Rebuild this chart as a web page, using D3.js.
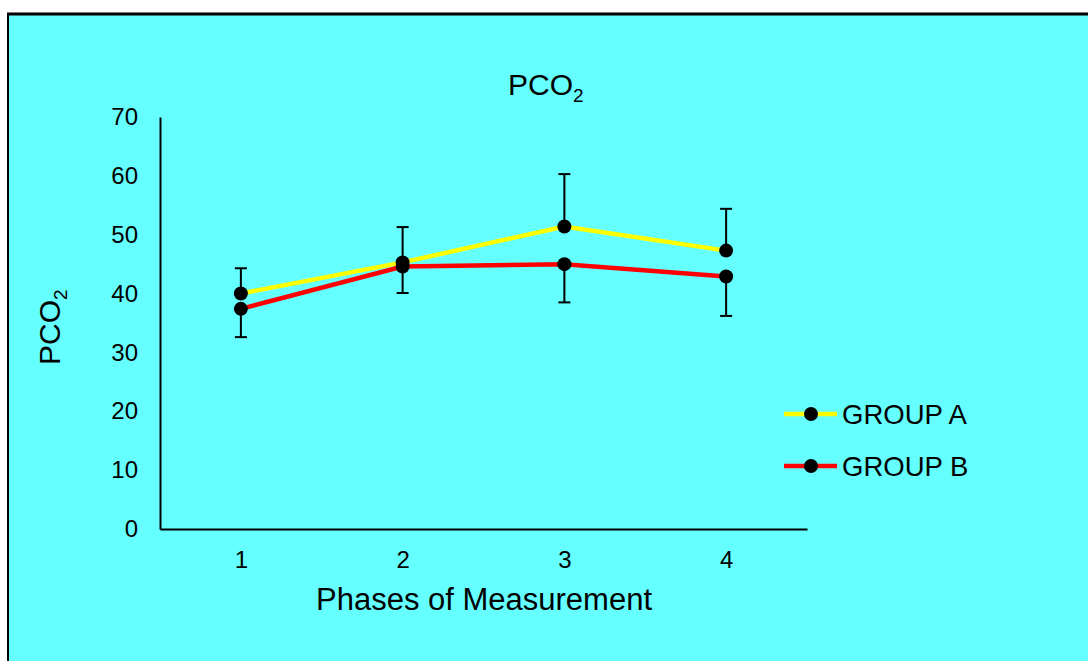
<!DOCTYPE html>
<html>
<head>
<meta charset="utf-8">
<script src="https://cdn.jsdelivr.net/npm/d3@7"></script>
<style>
  html, body { margin: 0; padding: 0; background: #fff; overflow: hidden; }
  svg { display: block; font-family: "Liberation Sans", Arial, sans-serif; }
</style>
</head>
<body>
<div id="chart"></div>
<script>
// data
const phases = ['1', '2', '3', '4'];
const groupA = [40.0, 45.3, 51.4, 47.3];
const groupAErrUp = [4.3, 6.0, 8.9, 7.1];
const groupB = [37.4, 44.6, 45.0, 42.9];
const groupBErrDown = [4.8, 4.5, 6.5, 6.7];
const yTicks = [0, 10, 20, 30, 40, 50, 60, 70];
const seriesNames = ['GROUP A', 'GROUP B'];
const seriesColors = ['#ffff00', '#ff0000'];

const W = 1088, H = 661;
const svg = d3.select('#chart').append('svg')
    .attr('width', W)
    .attr('height', H);

// frame
svg.append('rect')
    .attr('x', 8).attr('y', 14)
    .attr('width', W).attr('height', H)
    .attr('fill', '#66ffff');
svg.append('line')
    .attr('x1', 7).attr('x2', W).attr('y1', 14).attr('y2', 14)
    .attr('stroke', '#000').attr('stroke-width', 3);
svg.append('line')
    .attr('x1', 8).attr('x2', 8).attr('y1', 13).attr('y2', H)
    .attr('stroke', '#000').attr('stroke-width', 2);

// scales
const x = d3.scalePoint().domain(phases).range([160, 807]).padding(0.5);
const y = d3.scaleLinear().domain([0, 70]).range([529, 117]);

// axes
const yAxis = svg.append('g')
    .attr('transform', 'translate(160,0)')
    .call(d3.axisLeft(y).tickValues(yTicks).tickSize(0).tickPadding(22));
yAxis.select('.domain').attr('stroke', '#000').attr('stroke-width', 2);
yAxis.selectAll('text')
    .attr('font-size', 24)
    .attr('font-family', '"Liberation Sans", Arial, sans-serif')
    .attr('fill', '#000');

const xAxis = svg.append('g')
    .attr('transform', 'translate(0,529)')
    .call(d3.axisBottom(x).tickSize(0));
xAxis.select('.domain').attr('stroke', '#000').attr('stroke-width', 2);
xAxis.selectAll('text')
    .attr('y', 31).attr('dy', '0.35em')
    .attr('font-size', 24)
    .attr('font-family', '"Liberation Sans", Arial, sans-serif')
    .attr('fill', '#000');

// titles
const title = svg.append('text')
    .attr('x', 508).attr('y', 95)
    .attr('font-size', 30)
    .attr('fill', '#000');
title.append('tspan').text('PCO');
title.append('tspan').attr('font-size', 19).attr('dy', 7).text('2');

svg.append('text')
    .attr('x', 484).attr('y', 610)
    .attr('text-anchor', 'middle')
    .attr('font-size', 31)
    .attr('fill', '#000')
    .text('Phases of Measurement');

const yTitle = svg.append('text')
    .attr('transform', 'translate(60,365) rotate(-90)')
    .attr('font-size', 30)
    .attr('fill', '#000');
yTitle.append('tspan').text('PCO');
yTitle.append('tspan').attr('font-size', 19).attr('dy', 7).text('2');

// series
const line = d3.line()
    .x((d, i) => x(phases[i]))
    .y(d => y(d));

function drawSeries(values, errs, dir, color) {
    const g = svg.append('g');
    g.append('path')
        .datum(values)
        .attr('d', line)
        .attr('fill', 'none')
        .attr('stroke', color)
        .attr('stroke-width', 4.5);

    const eb = g.selectAll('.err')
        .data(values)
        .join('g');
    eb.append('line')
        .attr('x1', (d, i) => x(phases[i]))
        .attr('x2', (d, i) => x(phases[i]))
        .attr('y1', d => y(d))
        .attr('y2', (d, i) => y(d + dir * errs[i]))
        .attr('stroke', '#000').attr('stroke-width', 2);
    eb.append('line')
        .attr('x1', (d, i) => x(phases[i]) - 6)
        .attr('x2', (d, i) => x(phases[i]) + 6)
        .attr('y1', (d, i) => y(d + dir * errs[i]))
        .attr('y2', (d, i) => y(d + dir * errs[i]))
        .attr('stroke', '#000').attr('stroke-width', 2);

    g.selectAll('circle')
        .data(values)
        .join('circle')
        .attr('cx', (d, i) => x(phases[i]))
        .attr('cy', d => y(d))
        .attr('r', 7)
        .attr('fill', '#000');
}

drawSeries(groupA, groupAErrUp, 1, seriesColors[0]);
drawSeries(groupB, groupBErrDown, -1, seriesColors[1]);

// legend
const legend = svg.append('g')
    .selectAll('g')
    .data(seriesNames)
    .join('g')
    .attr('transform', (d, i) => `translate(0,${414 + i * 52})`);
legend.append('line')
    .attr('x1', 784).attr('x2', 837)
    .attr('stroke', (d, i) => seriesColors[i])
    .attr('stroke-width', 4.5);
legend.append('circle')
    .attr('cx', 811).attr('r', 7)
    .attr('fill', '#000');
legend.append('text')
    .attr('x', 842).attr('dy', '0.35em')
    .attr('font-size', 27.5)
    .attr('fill', '#000')
    .text(d => d);
</script>
</body>
</html>
